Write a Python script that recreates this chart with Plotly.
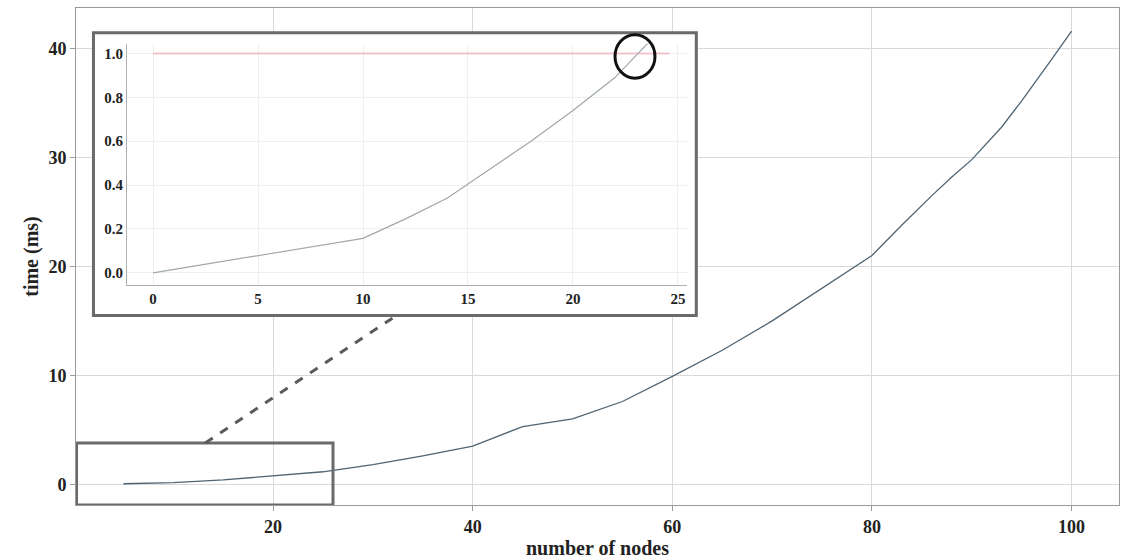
import plotly.graph_objects as go

# Run time measured for growing network sizes
nodes = [5, 10, 15, 20, 25, 30, 35, 40, 45, 50, 55, 60, 65, 70, 75, 80, 83, 86, 88, 90, 93, 95, 98, 100]
time_ms = [0.05, 0.15, 0.4, 0.75, 1.15, 1.8, 2.6, 3.5, 5.3, 6.0, 7.6, 9.9, 12.3, 15.0, 18.0, 21.0, 23.8, 26.5, 28.2, 29.8, 32.8, 35.2, 39.0, 41.6]

# Close-up of the small networks, where the time reaches 1 ms
zoom_nodes = [0, 10, 12, 14, 16, 18, 20, 22, 23, 23.6]
zoom_time = [0.0, 0.157, 0.245, 0.34, 0.47, 0.60, 0.74, 0.89, 0.99, 1.05]
threshold_ms = 1.0
threshold_span = [0, 24.6]

main_xticks = [20, 40, 60, 80, 100]
main_yticks = [0, 10, 20, 30, 40]
zoom_xticks = [0, 5, 10, 15, 20, 25]
zoom_yticks = [0.0, 0.2, 0.4, 0.6, 0.8, 1.0]

SERIF = "Liberation Serif, Times New Roman, serif"

fig = go.Figure()

fig.add_trace(go.Scatter(
    x=nodes, y=time_ms, mode="lines",
    line=dict(color="#4f6473", width=1.3),
    xaxis="x", yaxis="y", showlegend=False,
))

fig.add_trace(go.Scatter(
    x=threshold_span, y=[threshold_ms, threshold_ms], mode="lines",
    line=dict(color="rgba(240,150,160,0.5)", width=2),
    xaxis="x2", yaxis="y2", showlegend=False,
))
fig.add_trace(go.Scatter(
    x=zoom_nodes, y=zoom_time, mode="lines",
    line=dict(color="#a0a8ae", width=1.2),
    xaxis="x2", yaxis="y2", showlegend=False,
))

shapes = [
    # white panel behind the close-up
    dict(type="rect", xref="x", yref="y", x0=2.0, x1=62.4, y0=15.5, y1=41.45,
         fillcolor="white", line=dict(color="#6a6a6a", width=3), layer="between"),
    # region that the close-up magnifies
    dict(type="rect", xref="x", yref="y", x0=0.3, x1=26.0, y0=-1.9, y1=3.8,
         line=dict(color="#6a6a6a", width=3), layer="above"),
    # connector between region and close-up
    dict(type="line", xref="x", yref="y", x0=13.2, y0=3.8, x1=32.2, y1=15.4,
         line=dict(color="#5a5a5a", width=3, dash="dash"), layer="above"),
    # highlight where the curve crosses 1 ms
    dict(type="circle", xref="paper", yref="paper", x0=0.5168, x1=0.5551, y0=0.8588, y1=0.9463,
         line=dict(color="#111111", width=3), layer="above"),
]

fig.update_layout(
    width=1128, height=560,
    margin=dict(l=76, r=9, t=7, b=50),
    paper_bgcolor="white", plot_bgcolor="white",
    font=dict(family=SERIF, color="#222222"),
    shapes=shapes,
    xaxis=dict(
        range=[0.25, 104.75], tickvals=main_xticks,
        ticktext=[f"<b>{v}</b>" for v in main_xticks],
        showgrid=True, gridcolor="#d9d9d9", gridwidth=1,
        zeroline=False, showline=True, linecolor="#9a9a9a", linewidth=1, mirror=True,
        ticks="outside", ticklen=5, tickcolor="#9a9a9a",
        tickfont=dict(size=18, family=SERIF, color="#222"),
        title=dict(text="<b>number of nodes</b>", font=dict(size=20, family=SERIF, color="#222"), standoff=2),
    ),
    yaxis=dict(
        range=[-1.9, 43.72], tickvals=main_yticks,
        ticktext=[f"<b>{v}</b>" for v in main_yticks],
        showgrid=True, gridcolor="#d9d9d9", gridwidth=1,
        zeroline=False, showline=True, linecolor="#9a9a9a", linewidth=1, mirror=True,
        ticks="outside", ticklen=5, tickcolor="#9a9a9a",
        tickfont=dict(size=18, family=SERIF, color="#222"),
        title=dict(text="<b>time (ms)</b>", font=dict(size=20, family=SERIF, color="#222"), standoff=4),
    ),
    xaxis2=dict(
        domain=[0.0489, 0.5858], anchor="y2",
        range=[-1.24, 25.43], tickvals=zoom_xticks,
        ticktext=[f"<b>{v}</b>" for v in zoom_xticks],
        showgrid=True, gridcolor="#efefef", gridwidth=1,
        zeroline=False, showline=True, linecolor="#b0b0b0", linewidth=1,
        ticks="", tickfont=dict(size=15, family=SERIF, color="#222"),
    ),
    yaxis2=dict(
        domain=[0.4433, 0.9284], anchor="x2",
        range=[-0.054, 1.045], tickvals=zoom_yticks,
        ticktext=[f"<b>{v:.1f}</b>" for v in zoom_yticks],
        showgrid=True, gridcolor="#efefef", gridwidth=1,
        zeroline=False, showline=True, linecolor="#b0b0b0", linewidth=1,
        ticks="", tickfont=dict(size=15, family=SERIF, color="#222"),
    ),
)

fig.write_html("out.html")
